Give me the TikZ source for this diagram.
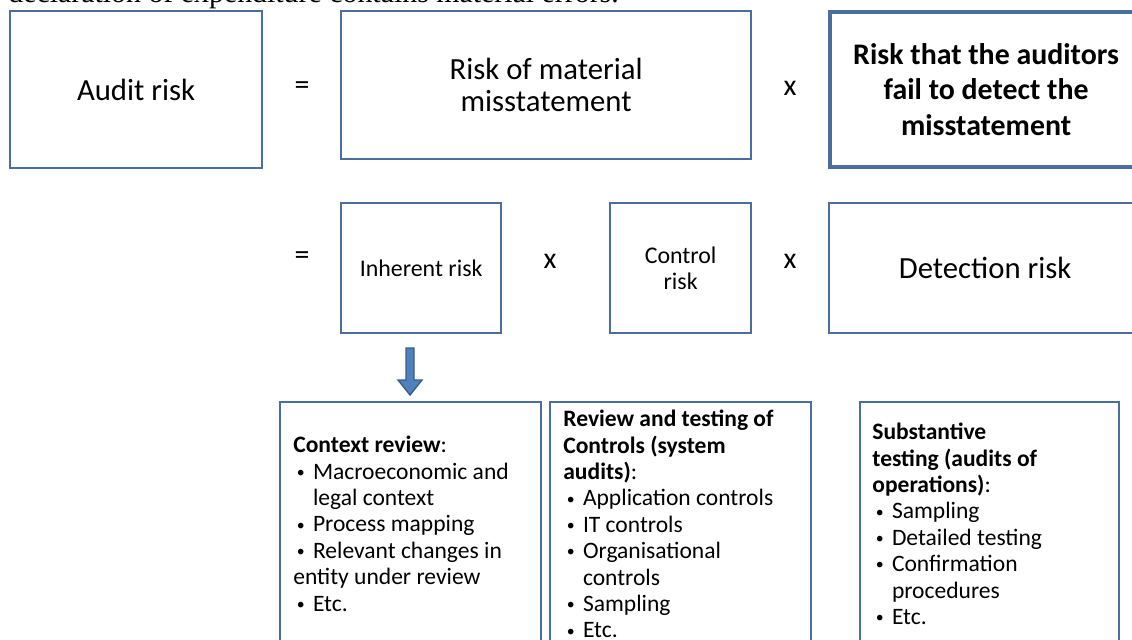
\documentclass[tikz,border=0pt]{standalone}
\usepackage{fontspec}
\setmainfont{Carlito}
\newfontfamily\serifdoc{Liberation Serif}
\usetikzlibrary{positioning,calc}

\definecolor{boxedge}{RGB}{74,110,160}
\definecolor{arrowfill}{RGB}{79,129,189}
\definecolor{arrowedge}{RGB}{56,93,138}

\newcommand{\itm}{\hspace{0.15em}\raisebox{0.15ex}{\fontsize{9}{9}\selectfont•}\hspace{0.35em}}

\begin{document}
\begin{tikzpicture}
                    [x=0.02cm,y=-0.02cm,
                     riskbox/.style={draw=boxedge,line width=1.3pt,inner sep=0pt,anchor=north west,align=center,font=\fontsize{17.5}{18}\selectfont},
                     boldbox/.style={riskbox,line width=2.4pt,font=\fontsize{17}{20}\selectfont\bfseries},
                     smallbox/.style={riskbox,font=\fontsize{13.6}{14.7}\selectfont},
                     listbox/.style={draw=boxedge,line width=1.3pt,inner sep=0pt,anchor=north west,minimum width=5.22cm,minimum height=5.2cm},
                     listtext/.style={inner sep=0pt,anchor=north west,align=left,font=\fontsize{13.4}{15}\selectfont},
                     optext/.style={font=\fontsize{17}{18}\selectfont}]

                    \useasboundingbox (0,0) rectangle (1132,639);
                    \clip (0,0) rectangle (1132,639);

                    \node[anchor=base west,inner sep=0pt,font=\serifdoc\fontsize{17}{20}\selectfont] (head) at (8,3)
                        {declaration of expenditure contains material errors.};

                    % first line of the equation
                    \node[riskbox,minimum width=5.04cm,minimum height=3.14cm] (audit) at (9,10) {Audit risk};
                    \node[optext] (eqa) at (302,88) {=};
                    \node[riskbox,minimum width=8.2cm,minimum height=2.96cm] (rmm) at (340,10) {Risk of material\\misstatement};
                    \node[optext] (mula) at (790,88) {x};
                    \node[boldbox,minimum width=6.24cm,minimum height=3.1cm] (fail) at (828,10) {Risk that the auditors\\fail to detect the\\misstatement};

                    % second line
                    \node[optext] (eqb) at (302,258) {=};
                    \node[smallbox,minimum width=3.2cm,minimum height=2.6cm] (inh) at (340,202) {Inherent risk};
                    \node[optext] (mulb) at (550,261) {x};
                    \node[smallbox,minimum width=2.82cm,minimum height=2.6cm] (ctl) at (609,202) {Control\\risk};
                    \node[optext] (mulc) at (790,261) {x};
                    \node[riskbox,minimum width=6.24cm,minimum height=2.6cm] (det) at (828,202) {Detection risk};

                    % block arrow
                    \coordinate (atop) at (410,348);
                    \coordinate (abot) at (410,395);
                    \filldraw[fill=arrowfill,draw=arrowedge,line width=0.8pt]
                        ($(atop)+(-4,0)$) -- ($(atop)+(4,0)$) -- ($(abot)+(4,-15)$) -- ($(abot)+(12,-15)$)
                        -- (abot) -- ($(abot)+(-12,-15)$) -- ($(abot)+(-4,-15)$) -- cycle;

                    % audit work
                    \node[listbox] (ctx) at (279,401) {};
                    \node[listbox] (rev) at (549,401) {};
                    \node[listbox,minimum width=5.18cm] (sub) at (859,401) {};

                    \node[listtext] (ctxtext) at ($(ctx.north west)+(14,35)$)
                        {\textbf{Context review}:\\
                         \itm Macroeconomic and\\
                         \hphantom{\itm}legal context\\
                         \itm Process mapping\\
                         \itm Relevant changes in\\
                         entity under review\\
                         \itm Etc.};
                    \node[listtext] (revtext) at ($(rev.north west)+(14,9)$)
                        {\textbf{Review and testing of}\\
                         \textbf{Controls (system}\\
                         \textbf{audits)}:\\
                         \itm Application controls\\
                         \itm IT controls\\
                         \itm Organisational\\
                         \hphantom{\itm}controls\\
                         \itm Sampling\\
                         \itm Etc.};
                    \node[listtext] (subtext) at ($(sub.north west)+(13,22)$)
                        {\textbf{Substantive}\\
                         \textbf{testing (audits of}\\
                         \textbf{operations)}:\\
                         \itm Sampling\\
                         \itm Detailed testing\\
                         \itm Confirmation\\
                         \hphantom{\itm}procedures\\
                         \itm Etc.};
                \end{tikzpicture}
\end{document}
